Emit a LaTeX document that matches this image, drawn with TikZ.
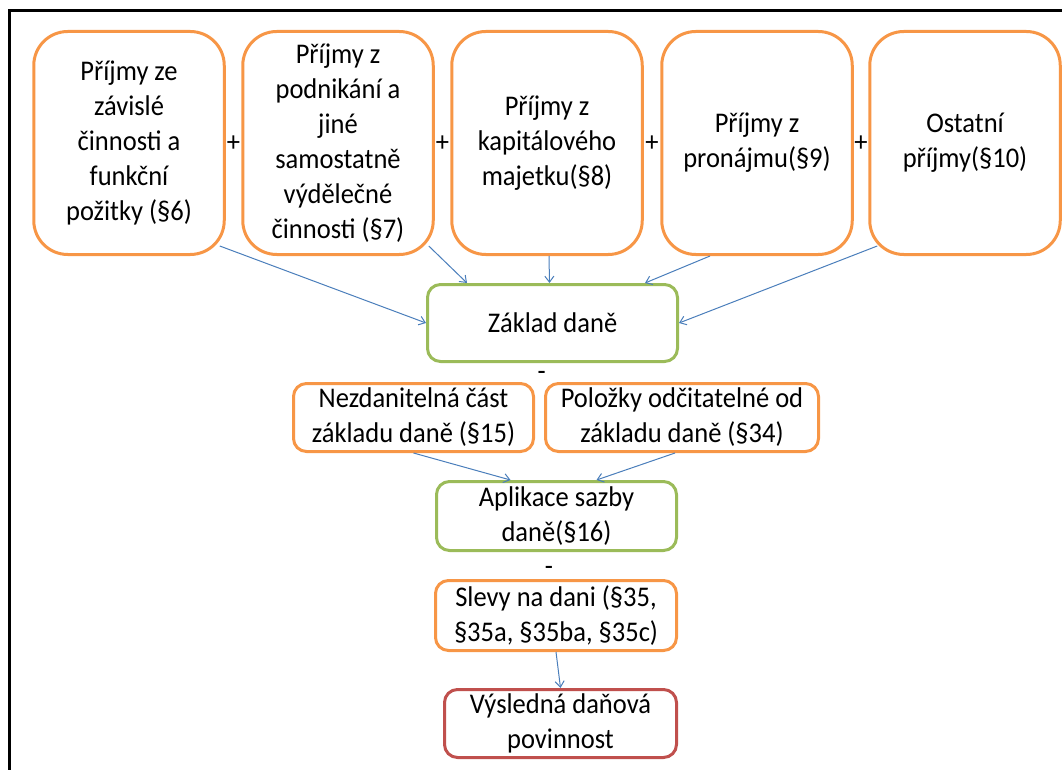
\documentclass[tikz,border=0pt]{standalone}
\usepackage{fontspec}
\setmainfont{Carlito}[FakeStretch=0.93]
\usetikzlibrary{arrows.meta,calc}
\definecolor{orng}{HTML}{F79646}
\definecolor{grn}{HTML}{9BBB59}
\definecolor{rd}{HTML}{C0504D}
\definecolor{arr}{HTML}{4A7EBB}
\begin{document}
\begin{tikzpicture}[x=1pt,y=-1pt,
  box/.style={draw, line width=3pt, fill=white, align=center, inner sep=0pt,
    font=\fontsize{28.5}{35}\selectfont, text=black},
  topbox/.style={box, draw=orng, rounded corners=34pt, minimum width=190.5pt, minimum height=223pt},
  obox/.style={box, draw=orng, rounded corners=13pt},
  gbox/.style={box, draw=grn, rounded corners=13pt},
  rbox/.style={box, draw=rd, rounded corners=13pt},
  sign/.style={inner sep=0pt, font=\fontsize{28.5}{35}\selectfont, text=black, anchor=base},
  conn/.style={draw=arr, line width=1pt, -{Straight Barb[length=6pt,width=9pt]}},
  frame/.style={draw=black, line width=3pt}
]
\useasboundingbox (0,0) rectangle (1062,770);
\draw[frame] (9.5,771) -- (9.5,10.5) -- (1063,10.5);

\node[topbox] (b1) at (129,143) {Příjmy ze\\závislé\\činnosti a\\funkční\\požitky (§6)};
\node[topbox] (b2) at (338,143) {Příjmy z\\podnikání a\\jiné\\samostatně\\výdělečné\\činnosti (§7)};
\node[topbox] (b3) at (547,143) {Příjmy z\\kapitálového\\majetku(§8)};
\node[topbox] (b4) at (757,143) {Příjmy z\\pronájmu(§9)};
\node[topbox] (b5) at (965,143) {Ostatní\\příjmy(§10)};

\node[sign] (p1) at ($(b1.east)!0.5!(b2.west)+(0,9)$) {+};
\node[sign] (p2) at ($(b2.east)!0.5!(b3.west)+(0,9)$) {+};
\node[sign] (p3) at ($(b3.east)!0.5!(b4.west)+(0,9)$) {+};
\node[sign] (p4) at ($(b4.east)!0.5!(b5.west)+(0,9)$) {+};

\node[gbox, minimum width=250pt, minimum height=77pt] (zd) at (552.5,323) {Základ daně};
\node[sign] (m1) at (541.6,380) {-};
\node[obox, minimum width=240pt, minimum height=68pt] (nz) at (413.5,417.5) {Nezdanitelná část\\základu daně (§15)};
\node[obox, minimum width=273pt, minimum height=68pt] (po) at (682,417.5) {Položky odčitatelné od\\základu daně (§34)};
\node[gbox, minimum width=240pt, minimum height=69pt] (ap) at (556.5,516) {Aplikace sazby\\daně(§16)};
\node[sign] (m2) at (549,575) {-};
\node[obox, minimum width=241pt, minimum height=70pt] (sl) at (556,615.5) {Slevy na dani (§35,\\§35a, §35ba, §35c)};
\node[rbox, minimum width=232pt, minimum height=68pt] (vy) at (560.5,723.5) {Výsledná daňová\\povinnost};

\draw[conn] ([shift={(-6,-10)}]b1.south east) -- (zd.west);
\draw[conn] ([shift={(-6,-10)}]b2.south east) -- ([xshift=41pt]zd.north west);
\draw[conn] ([xshift=2pt]b3.south) -- ([xshift=-3pt]zd.north);
\draw[conn] ([xshift=-47pt]b4.south) -- ([xshift=-34pt]zd.north east);
\draw[conn] ([shift={(9,-10)}]b5.south west) -- (zd.east);
\draw[conn] (nz.south) -- ([xshift=-46pt]ap.north);
\draw[conn] ([xshift=-7pt]po.south) -- ([xshift=40pt]ap.north);
\draw[conn] (sl.south) -- (vy.north);
\end{tikzpicture}
\end{document}
